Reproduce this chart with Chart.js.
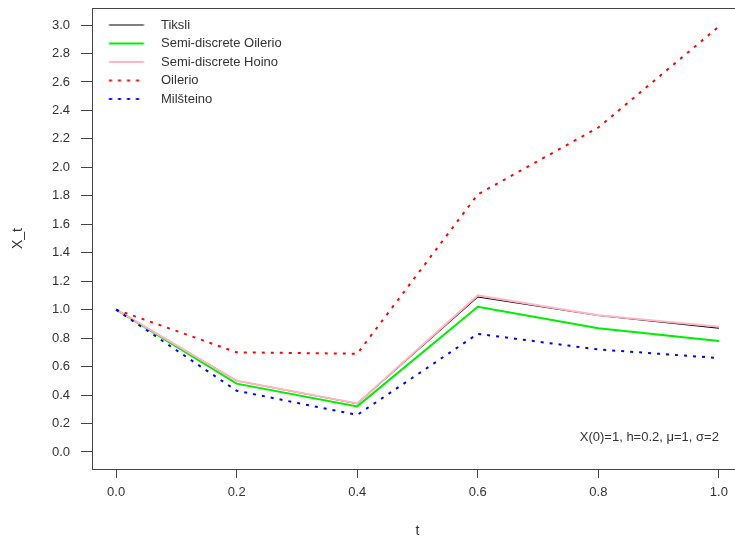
<!DOCTYPE html>
<html>
<head>
<meta charset="utf-8">
<script src="https://cdn.jsdelivr.net/npm/chart.js@4"></script>
<style>
  body { margin: 0; overflow: hidden; background: #fff; }
  #wrap { width: 743px; height: 540px; }
</style>
</head>
<body>
<div id="wrap"><canvas id="chart" width="743" height="540"></canvas></div>
<script>
// values
const tVals = [0.0, 0.2, 0.4, 0.6, 0.8, 1.0];
const tiksli = [1.0, 0.50, 0.34, 1.09, 0.96, 0.87];
const semiOilerio = [1.0, 0.48, 0.32, 1.02, 0.87, 0.78];
const semiHoino = [1.0, 0.50, 0.34, 1.10, 0.96, 0.88];
const oilerio = [1.0, 0.70, 0.69, 1.81, 2.28, 2.99];
const milsteino = [1.0, 0.43, 0.26, 0.83, 0.72, 0.66];

const seriesNames = ['Tiksli', 'Semi-discrete Oilerio', 'Semi-discrete Hoino', 'Oilerio', 'Milšteino'];
const xTicks = [0.0, 0.2, 0.4, 0.6, 0.8, 1.0];
const yTicks = [0.0, 0.2, 0.4, 0.6, 0.8, 1.0, 1.2, 1.4, 1.6, 1.8, 2.0, 2.2, 2.4, 2.6, 2.8, 3.0];
const note = 'X(0)=1, h=0.2, \u03bc=1, \u03c3=2';

const FONT = 'Liberation Sans, Arial, sans-serif';
const INK = '#333';

function pts(vals){
    return vals.map((v, i) => ({x: tVals[i], y: v}));
}

// legend symbol: a short line inside a wider transparent image
function legendLine(color, width, dash){
    let c = document.createElement('canvas');
    c.width = 57; c.height = 6;
    let g = c.getContext('2d');
    g.strokeStyle = color;
    g.lineWidth = width;
    g.setLineDash(dash);
    g.beginPath();
    g.moveTo(11.5, 3);
    g.lineTo(46.5, 3);
    g.stroke();
    return c;
}

const styles = [
    {color: '#000000', width: 1.2, dash: [], order: 5},
    {color: '#00ee00', width: 2, dash: [], order: 4},
    {color: '#ffb6c1', width: 2, dash: [], order: 3},
    {color: '#ff0000', width: 2, dash: [3, 6], order: 2},
    {color: '#0000ff', width: 2, dash: [3, 6], order: 1}
];
const allVals = [tiksli, semiOilerio, semiHoino, oilerio, milsteino];

const datasets = allVals.map((vals, i) => ({
    label: seriesNames[i],
    data: pts(vals),
    borderColor: styles[i].color,
    backgroundColor: styles[i].color,
    borderWidth: styles[i].width,
    borderDash: styles[i].dash,
    order: styles[i].order,
    pointRadius: 0,
    tension: 0,
    fill: false
}));

const frame = {
    id: 'frame',
    beforeDraw(chart){
        // push the in-plot legend down a little from the frame
        chart.legend.top = chart.chartArea.top + 5;
    },
    afterDraw(chart){
        const {ctx, chartArea: a, scales} = chart;
        ctx.save();
        ctx.strokeStyle = '#444';
        ctx.lineWidth = 1;
        ctx.strokeRect(Math.round(a.left) + 0.5, Math.round(a.top) + 0.5, a.right - a.left, a.bottom - a.top);
        ctx.fillStyle = INK;
        ctx.font = '13px ' + FONT;
        ctx.textAlign = 'right';
        ctx.textBaseline = 'middle';
        ctx.fillText(note, scales.x.getPixelForValue(1.0), scales.y.getPixelForValue(0.1));
        ctx.restore();
    }
};

const config = {
    type: 'line',
    data: {datasets: datasets},
    options: {
        responsive: false,
        animation: false,
        layout: {padding: {top: 8, left: 0, right: 0, bottom: 0}},
        plugins: {
            tooltip: {enabled: false},
            legend: {
                position: 'chartArea',
                align: 'start',
                labels: {
                    usePointStyle: true,
                    pointStyleWidth: 57,
                    padding: 5.5,
                    color: INK,
                    font: {family: FONT, size: 13},
                    generateLabels: (chart) => seriesNames.map((name, i) => ({
                        text: name,
                        datasetIndex: i,
                        pointStyle: legendLine(styles[i].color, styles[i].width, styles[i].dash),
                        fontColor: INK,
                        hidden: false,
                        lineWidth: 0,
                        strokeStyle: 'transparent',
                        fillStyle: 'transparent'
                    }))
                }
            }
        },
        scales: {
            x: {
                type: 'linear',
                min: -0.04,
                max: 1.04,
                afterBuildTicks: (s) => { s.ticks = xTicks.map(v => ({value: v})); },
                afterFit: (s) => { s.height = 71; s.paddingLeft = 0; s.paddingRight = 0; },
                ticks: {
                    color: INK,
                    font: {family: FONT, size: 13},
                    padding: 7,
                    maxRotation: 0,
                    callback: (v) => Number(v).toFixed(1)
                },
                grid: {drawOnChartArea: false, drawTicks: true, tickLength: 9, color: '#444'},
                border: {display: true, color: '#444'},
                title: {display: true, text: 't', color: INK, font: {family: FONT, size: 14}, padding: {top: 0, bottom: 0}}
            },
            y: {
                type: 'linear',
                min: -0.12,
                max: 3.12,
                afterBuildTicks: (s) => { s.ticks = yTicks.map(v => ({value: v})); },
                afterFit: (s) => { s.width = 92; s.paddingTop = 0; s.paddingBottom = 0; },
                ticks: {
                    color: INK,
                    font: {family: FONT, size: 13},
                    padding: 11,
                    callback: (v) => Number(v).toFixed(1)
                },
                grid: {drawOnChartArea: false, drawTicks: true, tickLength: 11, color: '#444'},
                border: {display: true, color: '#444'},
                title: {display: true, text: 'X_t', color: INK, font: {family: FONT, size: 14}, padding: {top: 10, bottom: 0}}
            }
        }
    },
    plugins: [frame]
};

let c = document.getElementById('chart').getContext('2d');
new Chart(c, config);
</script>
</body>
</html>
